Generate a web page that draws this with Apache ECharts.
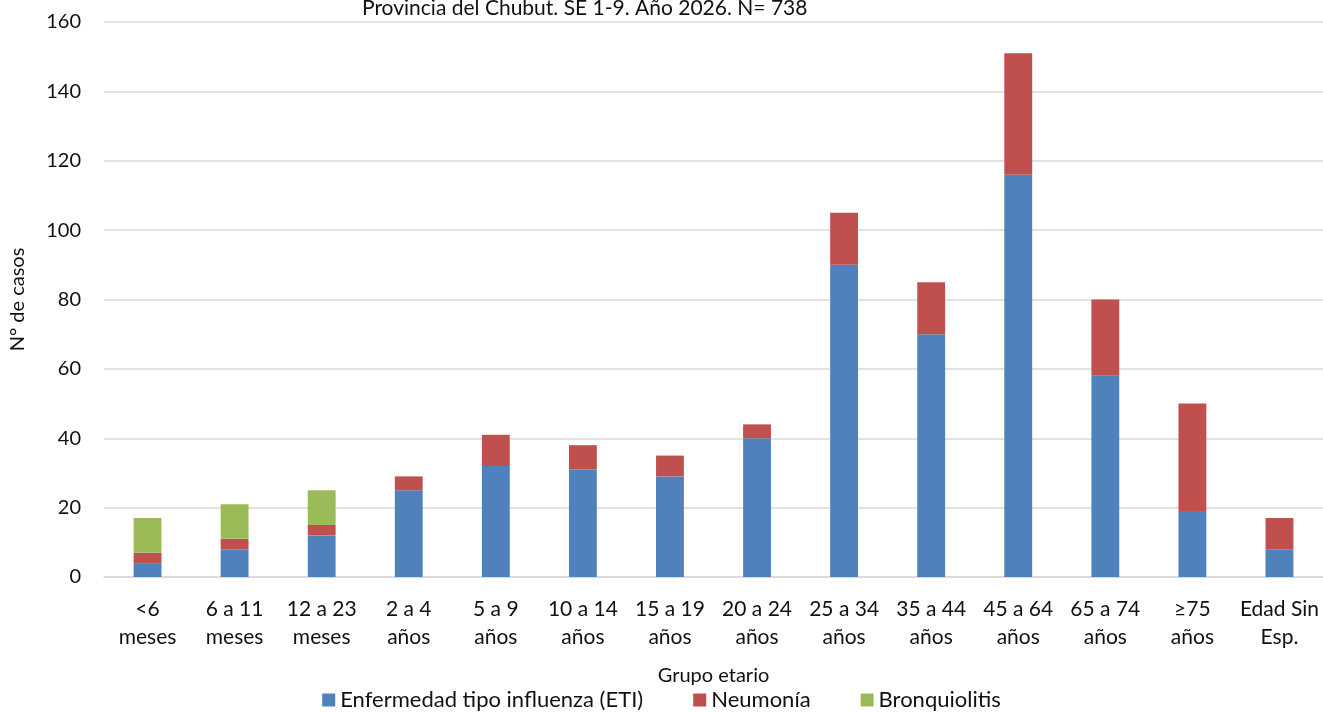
<!DOCTYPE html>
<html>
<head>
<meta charset="utf-8">
<script src="https://cdn.jsdelivr.net/npm/echarts@6/dist/echarts.min.js"></script>
<style>
  html, body { margin: 0; padding: 0; background: #fff; }
  #chart { width: 1323px; height: 713px; }
</style>
</head>
<body>
<div id="chart"></div>
<script>
// Age groups (two-line labels)
const categories = [
  '<6\nmeses', '6 a 11\nmeses', '12 a 23\nmeses', '2 a 4\naños', '5 a 9\naños',
  '10 a 14\naños', '15 a 19\naños', '20 a 24\naños', '25 a 34\naños', '35 a 44\naños',
  '45 a 64\naños', '65 a 74\naños', '≥75\naños', 'Edad Sin\nEsp.'
];

// Cases per age group
const eti           = [4, 8, 12, 25, 32, 31, 29, 40, 90, 70, 116, 58, 19, 8];
const neumonia      = [3, 3, 3, 4, 9, 7, 6, 4, 15, 15, 35, 22, 31, 9];
const bronquiolitis = [10, 10, 10, 0, 0, 0, 0, 0, 0, 0, 0, 0, 0, 0];

const seriesNames = ['Enfermedad tipo influenza (ETI)', 'Neumonía', 'Bronquiolitis'];
const colors = ['#4f81bd', '#c0504d', '#9bbb59'];

const font = 'Lato, "Open Sans", sans-serif';
const textColor = '#111';

const chart = echarts.init(document.getElementById('chart'), null, { renderer: 'canvas' });

function barSeries(name, data, color) {
  return {
    name: name,
    type: 'bar',
    stack: 'total',
    barWidth: '32%',
    data: data,
    itemStyle: { color: color },
    emphasis: { disabled: true }
  };
}

chart.setOption({
  animation: false,
  title: {
    text: 'Provincia del Chubut. SE 1-9. Año 2026. N= 738',
    left: 357,
    top: -7,
    textStyle: { fontFamily: font, fontSize: 21, fontWeight: 'normal', color: textColor }
  },
  grid: { left: 97, right: 0, top: 22, bottom: 136, containLabel: false },
  legend: {
    data: seriesNames,
    bottom: -3,
    left: 'center',
    itemWidth: 13,
    itemHeight: 13,
    itemGap: 50,
    icon: 'rect',
    textStyle: { fontFamily: font, fontSize: 22, color: textColor }
  },
  xAxis: {
    type: 'category',
    data: categories,
    name: 'Grupo etario',
    nameLocation: 'middle',
    nameGap: 89,
    nameTextStyle: { fontFamily: font, fontSize: 20, color: textColor },
    axisLine: { lineStyle: { color: '#d9d9d9', width: 1.5 } },
    axisTick: { show: false },
    axisLabel: {
      interval: 0,
      fontFamily: font,
      fontSize: 21,
      lineHeight: 28,
      color: textColor,
      margin: 18
    }
  },
  yAxis: {
    type: 'value',
    min: 0,
    max: 160,
    interval: 20,
    name: 'N° de casos',
    nameLocation: 'middle',
    nameGap: 76,
    nameRotate: 90,
    nameTextStyle: { fontFamily: font, fontSize: 20, color: textColor },
    axisLine: { show: false },
    axisTick: { show: false },
    axisLabel: { fontFamily: font, fontSize: 20, color: textColor, margin: 23 },
    splitLine: { lineStyle: { color: '#d9d9d9', width: 1.5 } }
  },
  series: [
    barSeries(seriesNames[0], eti, colors[0]),
    barSeries(seriesNames[1], neumonia, colors[1]),
    barSeries(seriesNames[2], bronquiolitis, colors[2])
  ]
});
</script>
</body>
</html>
